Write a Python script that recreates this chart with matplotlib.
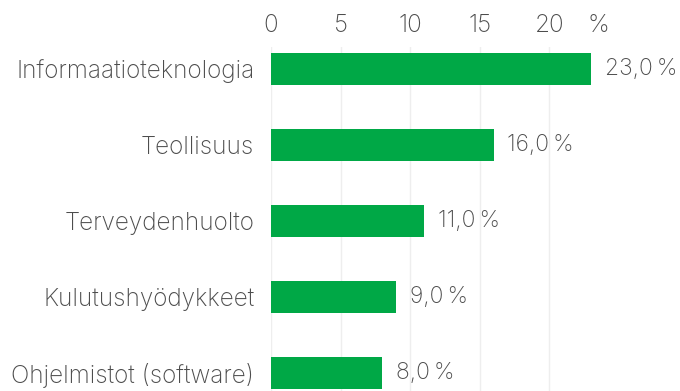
import matplotlib.pyplot as plt
from matplotlib.transforms import ScaledTranslation

categories = ["Informaatioteknologia", "Teollisuus", "Terveydenhuolto",
              "Kulutushyödykkeet", "Ohjelmistot (software)"]
values = [23.0, 16.0, 11.0, 9.0, 8.0]
ticks = [0, 5, 10, 15, 20]

GREEN = "#00a846"
TEXT = "#4d4d4d"
FS = 17.5

plt.rcParams["font.family"] = ["Inter", "DejaVu Sans"]
plt.rcParams["font.weight"] = "light"

fig = plt.figure(figsize=(6.8, 3.91), dpi=100)
ax = fig.add_axes([271 / 680, 0, (591 - 271) / 680, 1 - 47 / 391])

y = list(range(len(categories)))
ax.barh(y, values, height=0.42, color=GREEN, zorder=3)
ax.set_xlim(0, 23)
ax.set_ylim(4.24, -0.29)

ax.set_yticks(y)
ax.set_yticklabels(categories, fontsize=FS, color=TEXT)
ax.set_xticks(ticks)
ax.set_xticklabels([str(t) for t in ticks], fontsize=FS, color=TEXT)
ax.xaxis.tick_top()
ax.tick_params(axis="x", length=0, pad=7)
ax.tick_params(axis="y", length=0, pad=12)

# unit sign sits in the tick label row, right of the last tick
unit_tr = ax.transData + ScaledTranslation(0, 7 / 72, fig.dpi_scale_trans)
ax.text(23.5, -0.29, "%", transform=unit_tr, ha="center", va="bottom",
        fontsize=FS, color=TEXT, clip_on=False)

for yi, v in zip(y, values):
    ax.annotate(f"{v:.1f}".replace(".", ",") + "\u2009%", (v, yi),
                xytext=(10, 0), textcoords="offset points",
                ha="left", va="center", fontsize=16.5, color=TEXT)

ax.grid(axis="x", color="#eeeeee", linewidth=1, zorder=0)
for s in ax.spines.values():
    s.set_visible(False)

fig.savefig("out.png", dpi=100)
